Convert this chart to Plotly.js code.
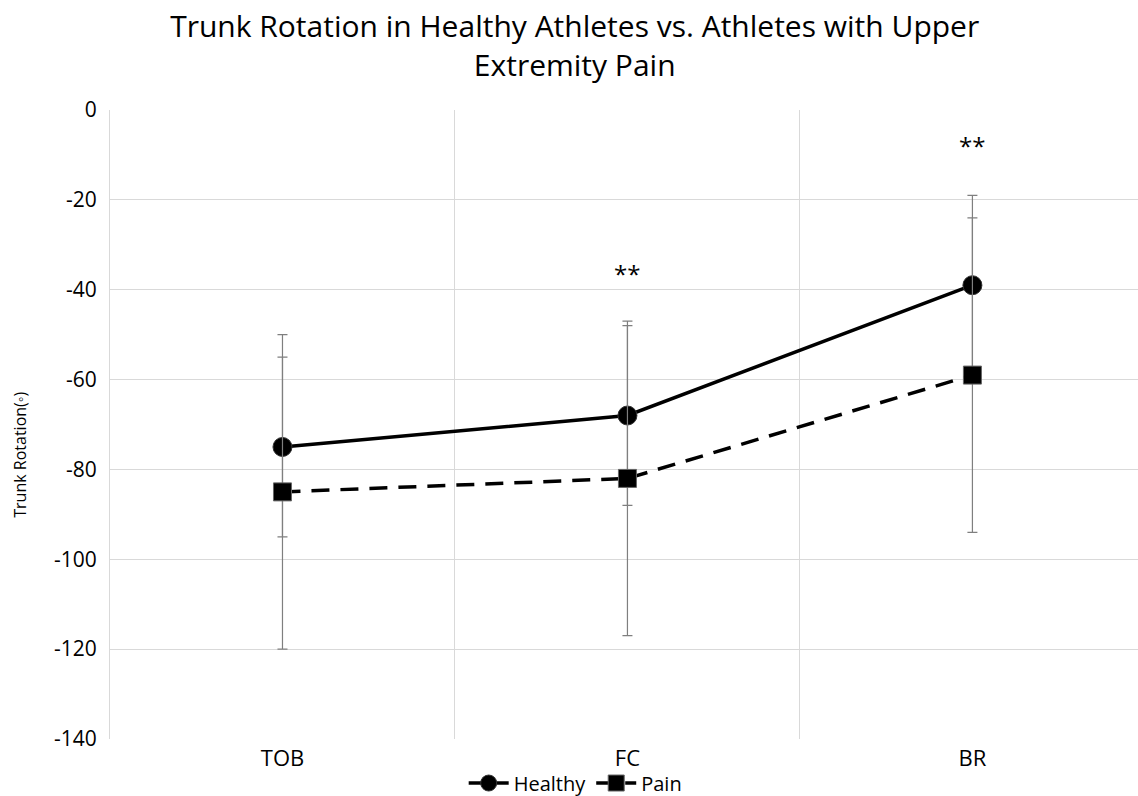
<!DOCTYPE html>
<html>
<head>
<meta charset="utf-8">
<script src="https://cdn.plot.ly/plotly-3.0.1.min.js"></script>
<style>html,body{margin:0;padding:0;background:#fff;}#chart{width:1138px;height:796px;}</style>
</head>
<body>
<div id="chart"></div>
<script>
const categories = ["TOB", "FC", "BR"];
const healthy = [-75, -68, -39];
const healthyErr = [20, 20, 20];
const pain = [-85, -82, -59];
const painErr = [35, 35, 35];
const yTicks = [0, -20, -40, -60, -80, -100, -120, -140];
const sigLabels = ["", "**", "**"];
const sigY = [null, -36.5, -8];
const yTitle = "Trunk Rotation(◦)";

const FONT = "Open Sans, Noto Sans, sans-serif";

const traces = [
  {
    x: categories, y: healthy, name: "Healthy", type: "scatter", mode: "lines+markers",
    line: {color: "#000", width: 3.5},
    marker: {symbol: "circle", size: 19, color: "#000", line: {color: "#333", width: 1}},
    error_y: {type: "data", array: healthyErr, visible: true, color: "#7f7f7f", thickness: 1.2, width: 5}
  },
  {
    x: categories, y: pain, name: "Pain", type: "scatter", mode: "lines+markers",
    line: {color: "#000", width: 3.5, dash: "18px,11px"},
    marker: {symbol: "square", size: 18, color: "#000", line: {color: "#666", width: 1}},
    error_y: {type: "data", array: painErr, visible: true, color: "#7f7f7f", thickness: 1.2, width: 5}
  }
];

const annotations = [];
categories.forEach((c, i) => {
  if (sigLabels[i]) {
    annotations.push({x: c, y: sigY[i], text: sigLabels[i], showarrow: false,
      font: {family: FONT, size: 24, color: "#000"}});
  }
});
annotations.push({xref: "paper", yref: "paper", x: -0.0875, y: 0.452, xanchor: "center", yanchor: "middle",
  text: yTitle, textangle: -90, showarrow: false, font: {family: FONT, size: 16, color: "#000"}});

const layout = {
  width: 1138, height: 796,
  margin: {l: 110, r: 0, t: 110, b: 57, autoexpand: false},
  paper_bgcolor: "#fff", plot_bgcolor: "#fff",
  title: {text: "Trunk Rotation in Healthy Athletes vs. Athletes with Upper<br>Extremity Pain",
    x: 0.505, xanchor: "center", y: 0.953, yanchor: "middle",
    font: {family: FONT, size: 30, color: "#000"}},
  xaxis: {
    type: "category", range: [-0.5, 2.48], tickson: "boundaries",
    showgrid: true, gridcolor: "#d9d9d9", gridwidth: 1,
    ticks: "", showline: false, zeroline: false,
    ticklabelstandoff: 4,
    tickfont: {family: FONT, size: 22, color: "#000"}
  },
  yaxis: {
    range: [-140, 0], tickvals: yTicks, ticktext: yTicks.map(String),
    showgrid: true, gridcolor: "#d9d9d9", gridwidth: 1,
    zeroline: false, showline: true, linecolor: "#d9d9d9", linewidth: 1,
    ticks: "", ticklen: 0, ticklabelstandoff: 8,
    tickfont: {family: FONT, size: 21, color: "#000"}
  },
  legend: {orientation: "h", x: 0.453, xanchor: "center", y: -0.07, yanchor: "middle",
    bgcolor: "rgba(0,0,0,0)",
    font: {family: FONT, size: 20, color: "#000"}, itemwidth: 40, traceorder: "normal"},
  showlegend: true,
  annotations: annotations
};

Plotly.newPlot("chart", traces, layout, {staticPlot: true});
</script>
</body>
</html>
